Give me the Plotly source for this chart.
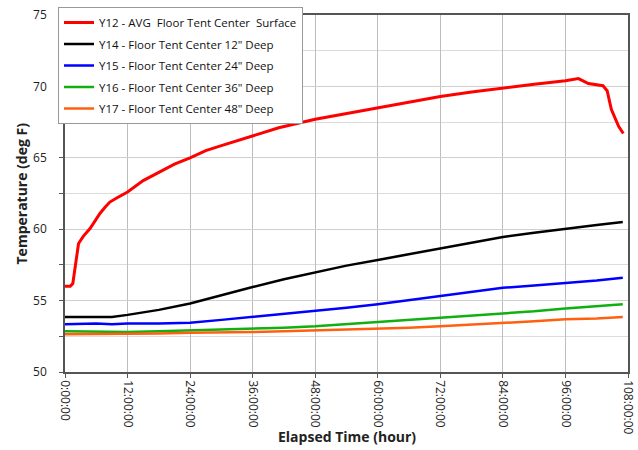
import plotly.graph_objects as go

# Red: surface
red_h = [0, 1.0, 1.5, 2.0, 2.6, 3.5, 4.8, 5.8, 6.7, 7.6, 8.6, 10, 12, 15, 18, 21, 24, 27, 30, 33, 36, 41, 48,
         54, 60, 66, 72, 78, 84, 90, 96, 98.5, 100.4, 102, 103.2, 104.0, 104.8, 105.5, 106.2, 107.1]
red_v = [56.0, 56.0, 56.2, 57.5, 59.0, 59.5, 60.05, 60.6, 61.1, 61.5, 61.9, 62.2, 62.6, 63.4, 64.0, 64.55, 65.0, 65.5, 65.85, 66.2, 66.5, 67.1, 67.7,
         68.1, 68.5, 68.9, 69.3, 69.6, 69.9, 70.15, 70.4, 70.55, 70.2, 70.1, 70.05, 69.7, 68.4, 67.8, 67.2, 66.7]

# Deeper sensors
deep_h = [0, 6, 9, 12, 18, 24, 30, 36, 42, 48, 54, 60, 66, 72, 78, 84, 90, 96, 102, 107]
black_v = [53.85, 53.85, 53.85, 54.0, 54.35, 54.8, 55.4, 55.95, 56.5, 57.0, 57.45, 57.85, 58.25, 58.7, 59.1, 59.45, 59.75, 60.05, 60.3, 60.5]
blue_v = [53.35, 53.4, 53.35, 53.4, 53.4, 53.45, 53.65, 53.85, 54.05, 54.3, 54.5, 54.75, 55.05, 55.3, 55.6, 55.9, 56.05, 56.2, 56.4, 56.6]
green_v = [52.85, 52.8, 52.8, 52.8, 52.85, 52.9, 52.95, 53.0, 53.1, 53.2, 53.35, 53.45, 53.6, 53.8, 53.95, 54.05, 54.25, 54.45, 54.6, 54.75]
orange_v = [52.65, 52.65, 52.65, 52.7, 52.7, 52.75, 52.75, 52.8, 52.85, 52.9, 52.95, 53.05, 53.1, 53.2, 53.3, 53.4, 53.55, 53.7, 53.75, 53.85]

names = [
    "Y12 - AVG\u00a0\u00a0Floor Tent Center\u00a0\u00a0Surface",
    "Y14 - Floor Tent Center 12\" Deep",
    "Y15 - Floor Tent Center 24\" Deep",
    "Y16 - Floor Tent Center 36\" Deep",
    "Y17 - Floor Tent Center 48\" Deep",
]
colors = ["#ff0000", "#000000", "#0000ff", "#10b010", "#ff6010"]

x_ticks = [0, 12, 24, 36, 48, 60, 72, 84, 96, 108]
x_labels = ["0:00:00", "12:00:00", "24:00:00", "36:00:00", "48:00:00",
            "60:00:00", "72:00:00", "84:00:00", "96:00:00", "108:00:00"]
y_ticks = [50, 55, 60, 65, 70, 75]

fig = go.Figure()
series = [(red_h, red_v), (deep_h, black_v), (deep_h, blue_v), (deep_h, green_v), (deep_h, orange_v)]
for i, (xs, ys) in enumerate(series):
    fig.add_trace(go.Scatter(x=xs, y=ys, mode="lines", name=names[i], legendgroup=str(i),
                             line=dict(color=colors[i], width=3 if i == 0 else 2.5)))

fig.update_layout(
    width=638, height=450,
    margin=dict(l=65, r=10, t=15, b=78, autoexpand=False),
    paper_bgcolor="white", plot_bgcolor="white",
    font=dict(family="Open Sans, sans-serif", size=12, color="#222"),
    showlegend=True,
    legend=dict(x=-0.0124, y=1.0224, xanchor="left", yanchor="top",
                bgcolor="white", bordercolor="#999", borderwidth=1,
                font=dict(size=11.5, color="#111"), tracegroupgap=2.5,
                itemwidth=30),
    xaxis=dict(range=[0, 108], tickvals=x_ticks, ticktext=x_labels, tickangle=90,
               showgrid=True, gridcolor="#bdbdbd", gridwidth=1,
               showline=True, linecolor="#555", linewidth=1.5, mirror=True,
               ticks="outside", ticklen=4, tickcolor="#555",
               tickfont=dict(size=12, color="#222"),
               zeroline=False),
    yaxis=dict(range=[50, 75], tickvals=y_ticks,
               showgrid=True, gridcolor="#cfcfcf", gridwidth=1,
               minor=dict(dtick=2.5, tick0=50, showgrid=True, gridcolor="#dcdcdc", ticks="outside", ticklen=4, tickcolor="#555"),
               showline=True, linecolor="#555", linewidth=1.5, mirror=True,
               ticks="outside", ticklen=4, tickcolor="#555", ticklabelstandoff=10,
               tickfont=dict(size=12, color="#222"),
               zeroline=False),
    annotations=[
        dict(text="<b>Elapsed Time (hour)</b>", xref="paper", yref="paper", x=0.5, y=-0.182,
             xanchor="center", yanchor="middle", showarrow=False, font=dict(size=14, color="#222")),
        dict(text="<b>Temperature (deg F)</b>", xref="paper", yref="paper", x=-0.0764, y=0.5,
             xanchor="center", yanchor="middle", textangle=-90, showarrow=False, font=dict(size=14, color="#222")),
    ],
)

fig.write_html("out.html", config={"displayModeBar": False},
               post_script="document.body.style.margin='0';")
